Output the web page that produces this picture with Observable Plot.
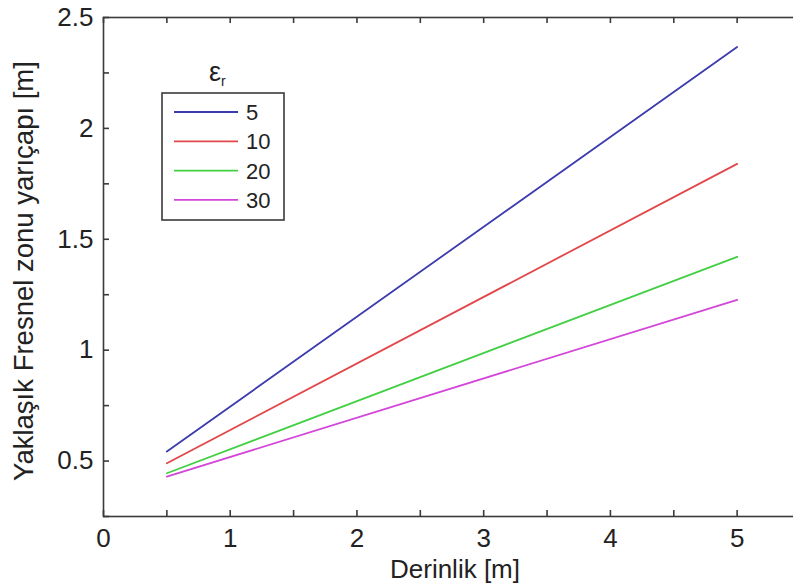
<!DOCTYPE html>
<html>
<head>
<meta charset="utf-8">
<script src="https://cdn.jsdelivr.net/npm/d3@7"></script>
<script src="https://cdn.jsdelivr.net/npm/@observablehq/plot@0.6"></script>
<style>
  html, body { margin: 0; padding: 0; background: #fff; overflow: hidden; }
  #wrap { position: relative; width: 793px; height: 588px; overflow: hidden; font-family: "Liberation Sans", Arial, sans-serif; }
  #wrap svg { max-width: none !important; }
  #overlay { position: absolute; left: 0; top: 0; }
</style>
</head>
<body>
<div id="wrap"></div>
<script>
// Data
const permittivity = ["5", "10", "20", "30"];
const depth = [0.5, 5];
const radius5  = [0.543, 2.367];
const radius10 = [0.490, 1.840];
const radius20 = [0.445, 1.421];
const radius30 = [0.430, 1.227];
const colors = ["#3c3cae", "#e2474a", "#43cf43", "#d346d9"];
const xTicks = [0, 1, 2, 3, 4, 5];
const xMinor = [0, 0.5, 1, 1.5, 2, 2.5, 3, 3.5, 4, 4.5, 5, 5.5];
const yTicks = [0.5, 1, 1.5, 2, 2.5];
const yMinor = [0.25, 0.5, 0.75, 1, 1.25, 1.5, 1.75, 2, 2.25, 2.5];
const xTitle = "Derinlik [m]";
const yTitle = "Yaklaşık Fresnel zonu yarıçapı [m]";

const series = [radius5, radius10, radius20, radius30];
const rows = [];
series.forEach((vals, i) => vals.forEach((v, j) => rows.push({er: permittivity[i], x: depth[j], y: v})));

const axisColor = "#3a3a3a";
const textColor = "#222";
const font = "Liberation Sans, Arial, sans-serif";
const plot = Plot.plot({
  width: 810,
  height: 588,
  marginLeft: 103,
  marginRight: 10,
  marginTop: 17,
  marginBottom: 72,
  style: {fontFamily: font, background: "#fff", color: textColor, maxWidth: "none"},
  x: {domain: [0, 5.5]},
  y: {domain: [0.25, 2.5]},
  color: {domain: permittivity, range: colors},
  marks: [
    Plot.frame({stroke: axisColor, strokeWidth: 1.6}),
    Plot.line(rows, {x: "x", y: "y", z: "er", stroke: "er", strokeWidth: 1.8}),
    // inward ticks
    Plot.ruleX(xMinor, {x: d => d, y1: 0.25, y2: 0.25, insetTop: -6, stroke: axisColor, strokeWidth: 1.6}),
    Plot.ruleX(xMinor, {x: d => d, y1: 2.5, y2: 2.5, insetBottom: -6, stroke: axisColor, strokeWidth: 1.6}),
    Plot.ruleY(yMinor, {y: d => d, x1: 0, x2: 0, insetRight: -6, stroke: axisColor, strokeWidth: 1.6}),
    // tick labels
    Plot.axisX({anchor: "bottom", ticks: xTicks, tickSize: 0, tickPadding: 12, fontSize: 26, fill: textColor,
      label: null, tickFormat: d => String(d)}),
    Plot.axisY({anchor: "left", ticks: yTicks, tickSize: 0, tickPadding: 10, fontSize: 26, fill: textColor,
      label: null, tickFormat: d => String(d)})
  ]
});
const wrap = document.getElementById("wrap");
wrap.appendChild(plot);

// Overlay: axis titles and legend
const ns = "http://www.w3.org/2000/svg";
const ov = document.createElementNS(ns, "svg");
ov.setAttribute("id", "overlay");
ov.setAttribute("width", 793);
ov.setAttribute("height", 588);
ov.style.fontFamily = font;
function el(name, attrs, text) {
  const e = document.createElementNS(ns, name);
  for (const k in attrs) e.setAttribute(k, attrs[k]);
  if (text != null) e.textContent = text;
  ov.appendChild(e);
  return e;
}
el("text", {x: 455, y: 578, "text-anchor": "middle", "font-size": 26, fill: textColor}, xTitle);
el("text", {x: 0, y: 0, "text-anchor": "middle", "font-size": 27.5, fill: textColor,
  transform: "translate(33,271) rotate(-90)"}, yTitle);

el("rect", {x: 162, y: 93, width: 122, height: 127, fill: "#fff", stroke: axisColor, "stroke-width": 1.6});
const title = el("text", {x: 209, y: 81, "font-size": 27, fill: textColor});
title.innerHTML = 'ε<tspan font-size="14" dy="5">r</tspan>';
permittivity.forEach((lab, i) => {
  const y = 112 + i * 29.3;
  el("line", {x1: 174, x2: 238, y1: y, y2: y, stroke: colors[i], "stroke-width": 1.8});
  el("text", {x: 246, y: y + 8, "font-size": 22, fill: textColor}, lab);
});
wrap.appendChild(ov);
</script>
</body>
</html>
